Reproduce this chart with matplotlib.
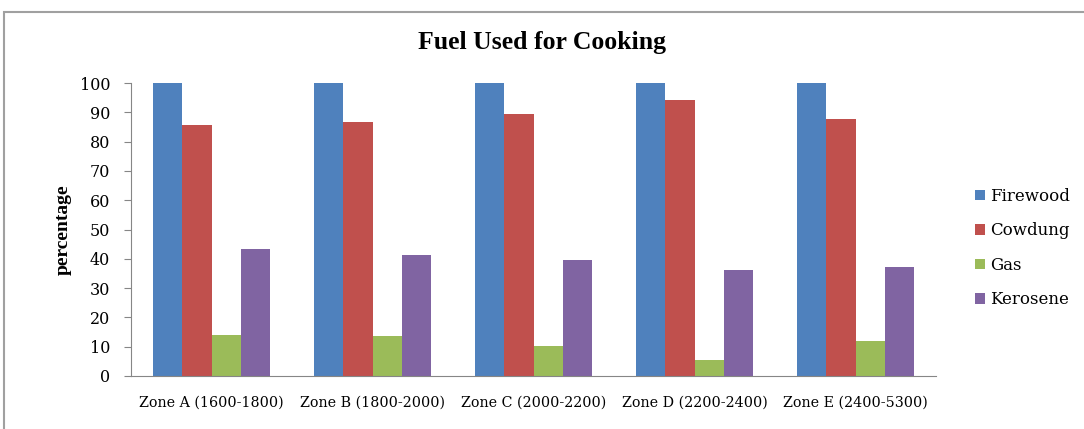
import numpy as np
from matplotlib import pyplot as plt
from matplotlib.patches import Rectangle

zones = ['Zone A (1600-1800)', 'Zone B (1800-2000)', 'Zone C (2000-2200)',
         'Zone D (2200-2400)', 'Zone E (2400-5300)']
firewood = [100, 100, 100, 100, 100]
cowdung = [85.6, 86.6, 89.4, 94.2, 87.7]
gas = [14.1, 13.7, 10.4, 5.5, 11.9]
kerosene = [43.3, 41.2, 39.6, 36.3, 37.2]

series = [('Firewood', firewood, '#4f81bd'),
          ('Cowdung', cowdung, '#c0504d'),
          ('Gas', gas, '#9bbb59'),
          ('Kerosene', kerosene, '#8064a2')]

plt.rcParams['font.family'] = 'DejaVu Serif'

fig = plt.figure(figsize=(10.84, 4.29), dpi=100)
fig.patches.append(Rectangle((4 / 1084, -0.05), 1.1, 0.05 + 1 - 12 / 429,
                             transform=fig.transFigure, fill=False,
                             edgecolor='#a0a0a0', linewidth=1.5))
ax = fig.add_axes([131 / 1084, 53 / 429, 805 / 1084, 293 / 429])

x = np.arange(len(zones))
width = 0.183
for i, (name, vals, color) in enumerate(series):
    ax.bar(x + (i - 1.5) * width, vals, width, label=name, color=color)

ax.set_xlim(-0.5, len(zones) - 0.5)
ax.set_ylim(0, 100)
ax.set_yticks(range(0, 101, 10))
ax.set_xticks(x, zones)
ax.tick_params(axis='x', length=0, labelsize=10.3, pad=14)
ax.tick_params(axis='y', length=5, color='#868686', labelsize=11.5, pad=10)

for side in ('top', 'right'):
    ax.spines[side].set_visible(False)
for side in ('left', 'bottom'):
    ax.spines[side].set_color('#868686')

ax.set_ylabel('percentage', fontsize=14, fontweight='bold', labelpad=6,
              family='Liberation Serif')
fig.text(0.5, 1 - 43 / 429, 'Fuel Used for Cooking', ha='center', va='center',
         fontsize=18.5, fontweight='bold', family='Liberation Serif')

ax.legend(loc='center left', bbox_to_anchor=(968 / 1084, 1 - 248 / 429),
          bbox_transform=fig.transFigure, frameon=False, fontsize=12,
          handlelength=0.6, handleheight=0.6, handletextpad=0.3,
          labelspacing=1.05, borderaxespad=0)

fig.savefig('out.png', dpi=100)
